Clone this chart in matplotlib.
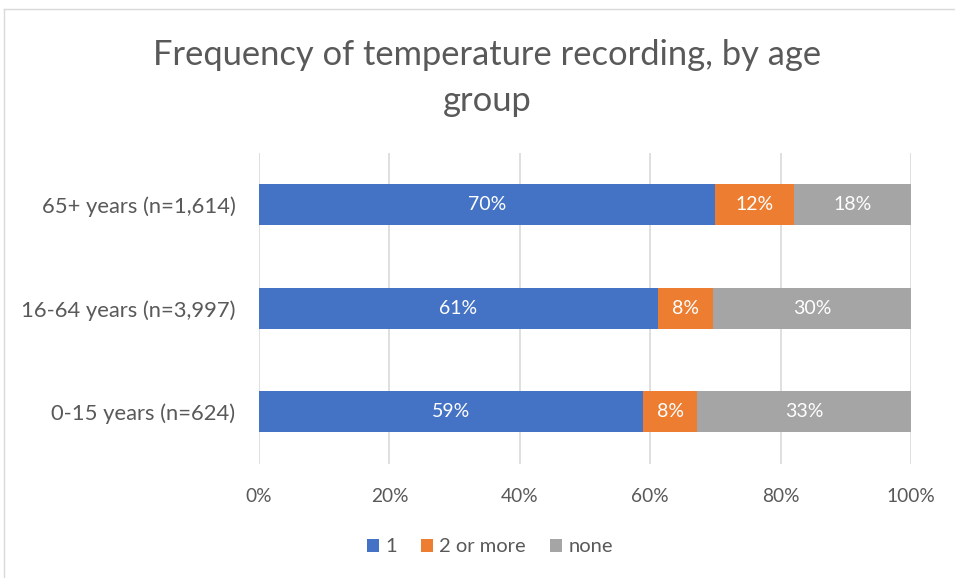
import numpy as np
import matplotlib as mpl
import matplotlib.pyplot as plt
from matplotlib.patches import Patch
from matplotlib.lines import Line2D

plt.rcParams['font.family'] = ['Lato', 'DejaVu Sans']

# data
groups = ['0-15 years (n=624)', '16-64 years (n=3,997)', '65+ years (n=1,614)']
one = [58.9, 61.2, 70.0]
two_plus = [8.3, 8.4, 12.0]
none = [32.8, 30.4, 18.0]
one_lbl = ['59%', '61%', '70%']
two_lbl = ['8%', '8%', '12%']
none_lbl = ['33%', '30%', '18%']
series_names = ['1', '2 or more', 'none']
ticks = [0, 20, 40, 60, 80, 100]

W, H = 955, 578
fig = plt.figure(figsize=(W / 100, H / 100), dpi=100)
txt = '#595959'
colors = ['#4472C4', '#ED7D31', '#A5A5A5']

# chart border
fig.add_artist(Line2D([4 / W, 4 / W], [0, 1 - 9 / H], color='#D9D9D9', lw=1))
fig.add_artist(Line2D([4 / W, 1], [1 - 9 / H, 1 - 9 / H], color='#D9D9D9', lw=1))

ax = fig.add_axes([259 / W, (H - 463.5) / H, 652 / W, 310.5 / H])
y = np.arange(len(groups))
left = np.zeros(len(groups))
for vals, lbls, c in zip([one, two_plus, none], [one_lbl, two_lbl, none_lbl], colors):
    vals = np.array(vals)
    bars = ax.barh(y, vals, left=left, height=0.4, color=c, zorder=3)
    for b, l in zip(bars, lbls):
        ax.text(b.get_x() + b.get_width() / 2, b.get_y() + b.get_height() / 2, l,
                ha='center', va='center', color='white', fontsize=14, zorder=4)
    left += vals

ax.set_xlim(0, 100)
ax.set_ylim(-0.5, 2.5)
ax.set_xticks(ticks)
ax.set_xticklabels([f'{t}%' for t in ticks])
ax.set_yticks(y)
ax.set_yticklabels(groups)
ax.tick_params(axis='both', length=0, colors=txt)
ax.tick_params(axis='x', pad=18, labelsize=13.8)
ax.tick_params(axis='y', pad=17, labelsize=15.8)
ax.grid(axis='x', color='#D9D9D9', lw=1.2, zorder=0)
for s in ax.spines.values():
    s.set_visible(False)

fig.text(487 / W, 1 - 55 / H, 'Frequency of temperature recording, by age',
         ha='center', va='center', fontsize=24.8, color=txt)
fig.text(487 / W, 1 - 101 / H, 'group', ha='center', va='center', fontsize=24.8, color=txt)

handles = [Patch(facecolor=c, edgecolor='none') for c in colors]
fig.legend(handles, series_names, loc='center', bbox_to_anchor=(490 / W, 1 - 547 / H),
           ncol=3, frameon=False, fontsize=14.5, labelcolor=txt,
           handlelength=0.6, handleheight=0.6, handletextpad=0.3, columnspacing=1.2)

fig.savefig('out.png', dpi=100)
